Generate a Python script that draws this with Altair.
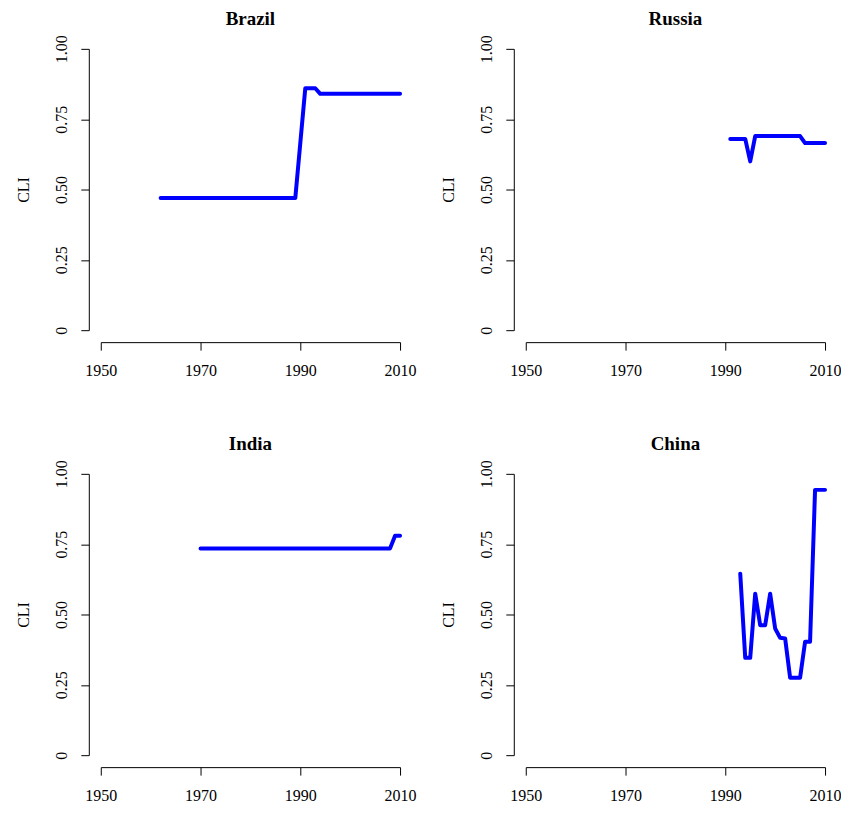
import altair as alt
import pandas as pd

# ---- data ----
brazil_years = list(range(1962, 2011))
brazil_cli = [0.47, 0.47, 0.47, 0.47, 0.47, 0.47, 0.47, 0.47, 0.47, 0.47,
              0.47, 0.47, 0.47, 0.47, 0.47, 0.47, 0.47, 0.47, 0.47, 0.47,
              0.47, 0.47, 0.47, 0.47, 0.47, 0.47, 0.47, 0.47,
              0.665, 0.86, 0.86, 0.86,
              0.84, 0.84, 0.84, 0.84, 0.84, 0.84, 0.84, 0.84, 0.84, 0.84,
              0.84, 0.84, 0.84, 0.84, 0.84, 0.84, 0.84]

russia_years = list(range(1991, 2011))
russia_cli = [0.68, 0.68, 0.68, 0.68, 0.60,
              0.69, 0.69, 0.69, 0.69, 0.69, 0.69, 0.69, 0.69, 0.69, 0.69,
              0.665, 0.665, 0.665, 0.665, 0.665]

india_years = list(range(1970, 2011))
india_cli = [0.735, 0.735, 0.735, 0.735, 0.735, 0.735, 0.735, 0.735, 0.735, 0.735,
             0.735, 0.735, 0.735, 0.735, 0.735, 0.735, 0.735, 0.735, 0.735, 0.735,
             0.735, 0.735, 0.735, 0.735, 0.735, 0.735, 0.735, 0.735, 0.735, 0.735,
             0.735, 0.735, 0.735, 0.735, 0.735, 0.735, 0.735, 0.735, 0.735,
             0.78, 0.78]

china_years = list(range(1993, 2011))
china_cli = [0.645, 0.346, 0.346, 0.574, 0.462, 0.462, 0.574, 0.450, 0.417,
             0.415, 0.275, 0.275, 0.275, 0.403, 0.403, 0.943, 0.943, 0.943]

x_ticks = [1950, 1970, 1990, 2010]
y_ticks = [0, 0.25, 0.5, 0.75, 1.0]

FONT = "Liberation Serif"


def panel(name, years, values):
    df = pd.DataFrame({"year": years, "CLI": values})
    return (
        alt.Chart(df, title=alt.TitleParams(name, anchor="middle", fontSize=19,
                                            fontWeight="bold", font=FONT,
                                            color="black", offset=6))
        .mark_line(color="#0000ff", strokeWidth=4, strokeJoin="round", strokeCap="round")
        .encode(
            x=alt.X("year:Q",
                    scale=alt.Scale(domain=[1950, 2010], nice=False, zero=False),
                    axis=alt.Axis(title=None, values=x_ticks, format="d", offset=12,
                                  tickSize=8, labelPadding=12, labelFontSize=16,
                                  labelFont=FONT, grid=False, labelColor="black",
                                  domainColor="black", tickColor="black",
                                  labelFlush=False)),
            y=alt.Y("CLI:Q",
                    scale=alt.Scale(domain=[0, 1], nice=False, zero=False),
                    axis=alt.Axis(title="CLI", values=y_ticks, offset=12,
                                  labelExpr="datum.value == 0 ? '0' : format(datum.value, '.2f')",
                                  tickSize=8, labelAngle=270, labelAlign="center",
                                  labelBaseline="bottom", labelPadding=11,
                                  labelFontSize=16, labelFont=FONT, grid=False,
                                  labelColor="black", domainColor="black",
                                  tickColor="black", labelFlush=False,
                                  titleFont=FONT, titleFontSize=16,
                                  titleFontWeight="normal", titleColor="black",
                                  titlePadding=22)),
        )
        .properties(width=300, height=282)
    )


chart = alt.concat(
    panel("Brazil", brazil_years, brazil_cli),
    panel("Russia", russia_years, russia_cli),
    panel("India", india_years, india_cli),
    panel("China", china_years, china_cli),
    columns=2,
    spacing={"row": 144, "column": 126},
    bounds="flush",
).properties(
    padding={"left": 8, "top": 1, "right": 0, "bottom": 0}
).configure(font=FONT).configure_view(stroke=None)

chart.save("out.html", embed_options={"renderer": "svg", "actions": False})
